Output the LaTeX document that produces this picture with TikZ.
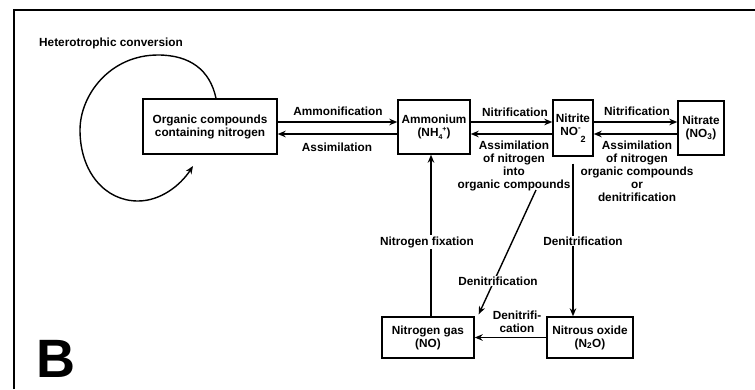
\documentclass[tikz,border=0pt]{standalone}
\usepackage{fontspec}
\setmainfont{Liberation Sans}
\usetikzlibrary{arrows.meta,calc}
\newcommand{\lblfont}{\bfseries\fontsize{11.8}{13}\selectfont}
\begin{document}
\begin{tikzpicture}[x=1pt,y=-1pt,
  box/.style={draw,line width=1.4pt,align=center,inner sep=0pt,font=\lblfont},
  lbl/.style={align=center,inner sep=1pt,font=\lblfont},
  wl/.style={lbl,fill=white},
  arr/.style={line width=1.4pt,-{Stealth[length=8pt,width=6.5pt]}},
  ln/.style={line width=1.4pt}]
\useasboundingbox (0,0) rectangle (755,389);
% frame
\draw[ln] (14,389) -- (14,10) -- (755,10);
% boxes
\node[box,minimum width=134pt,minimum height=55pt] (org) at (210,126.5) {Organic compounds\\containing nitrogen};
\node[box,minimum width=72pt,minimum height=54pt] (amm) at (434,127) {Ammonium\\(NH\raisebox{-3.5pt}{\scriptsize 4}\raisebox{5pt}{\scriptsize +})};
\node[box,minimum width=40pt,minimum height=56pt] (nit) at (573,128) {Nitrite\\NO\raisebox{5pt}{\footnotesize -}\raisebox{-7pt}{\small 2}};
\node[box,minimum width=46pt,minimum height=54pt] (nat) at (701,128) {Nitrate\\(NO\textsubscript{3})};
\node[box,minimum width=86pt,minimum height=41pt] (n2o) at (590,337.5) {Nitrous oxide\\(N\textsubscript{2}O)};
\node[box,minimum width=92pt,minimum height=41pt] (ngas) at (428,337.5) {Nitrogen gas\\(NO)};
% rows
\coordinate (ra) at (0,122);
\coordinate (rb) at (0,134);
\draw[arr] (org.east |- ra) -- (amm.west |- ra);
\draw[arr] (amm.west |- rb) -- (org.east |- rb);
\draw[arr] (amm.east |- ra) -- (nit.west |- ra);
\draw[arr] (nit.west |- rb) -- (amm.east |- rb);
\draw[arr] (nit.east |- ra) -- (nat.west |- ra);
\draw[arr] (nat.west |- rb) -- (nit.east |- rb);
\node[lbl] at (338,111) {Ammonification};
\node[lbl] at (337,147) {Assimilation};
\node[lbl] at (515,112) {Nitrification};
\node[lbl] at (637,111) {Nitrification};
\node[lbl,anchor=north] at (514,140) {Assimilation\\of nitrogen\\into\\organic compounds};
\node[lbl,anchor=north] at (637,140) {Assimilation\\of nitrogen\\organic compounds\\or\\denitrification};
% heterotrophic loop
\node[lbl,anchor=west] (het) at (38,43) {Heterotrophic conversion};
\draw[arr] ([xshift=6pt]org.north) .. controls (210,70) and (190,55) .. (158,55)
  .. controls (110,55) and (80,95) .. (80,130)
  .. controls (80,172) and (105,201) .. (138,201)
  .. controls (160,201) and (180,186) .. (193,166);
% verticals
\draw[arr,shorten <=7pt] (nit.south) -- (nit.south |- n2o.north);
\node[wl] at (583,241) {Denitrification};
\draw[arr] ([xshift=3pt]ngas.north) -- ([xshift=3pt]ngas.north |- amm.south);
\node[wl] at (427,242) {Nitrogen fixation};
\coordinate (d0) at (536,190);
\draw[arr] (d0) -- ([xshift=4pt,yshift=2pt]ngas.north east);
\node[wl] at (498,281) {Denitrification};
\draw[arr] (n2o.west) -- (ngas.east);
\node[lbl] at (517,322) {Denitrifi-\\cation};
% panel letter
\node[font=\fontsize{54}{54}\bfseries\selectfont,anchor=base west,inner sep=0pt] (lb) at (36,377) {B};
\end{tikzpicture}
\end{document}
